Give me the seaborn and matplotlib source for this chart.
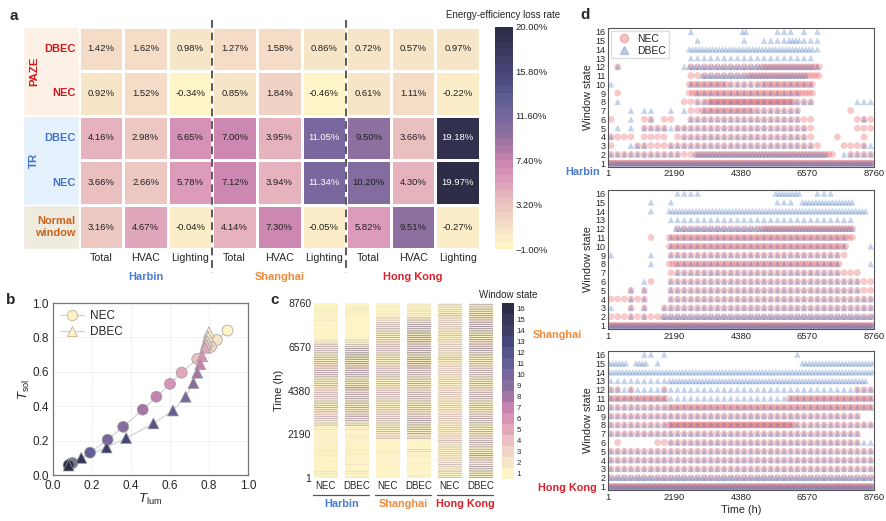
import numpy as np
import matplotlib
matplotlib.use('Agg')
import matplotlib.pyplot as plt
import matplotlib.transforms as mtrans
from matplotlib.colors import LinearSegmentedColormap, ListedColormap
from matplotlib.lines import Line2D
from matplotlib.patches import Rectangle
import seaborn as sns

sns.set_theme(style='white')
plt.rcParams['font.family'] = ['Liberation Sans', 'DejaVu Sans']
plt.rcParams['mathtext.fontset'] = 'custom'
plt.rcParams['mathtext.rm'] = 'Liberation Sans'
plt.rcParams['mathtext.it'] = 'Liberation Sans:italic'

# ---------------- data ----------------
cities = ['Harbin', 'Shanghai', 'Hong Kong']
loads = ['Total', 'HVAC', 'Lighting']
row_names = ['DBEC', 'NEC', 'DBEC', 'NEC', 'Normal\nwindow']

# panel a: energy-efficiency loss rate (%)
loss_paze_dbec = [1.42, 1.62, 0.98, 1.27, 1.58, 0.86, 0.72, 0.57, 0.97]
loss_paze_nec = [0.92, 1.52, -0.34, 0.85, 1.84, -0.46, 0.61, 1.11, -0.22]
loss_tr_dbec = [4.16, 2.98, 6.65, 7.00, 3.95, 11.05, 9.50, 3.66, 19.18]
loss_tr_nec = [3.66, 2.66, 5.78, 7.12, 3.94, 11.34, 10.20, 4.30, 19.97]
loss_normal = [3.16, 4.67, -0.04, 4.14, 7.30, -0.05, 5.82, 9.51, -0.27]
cbar_ticks_a = [-1.0, 3.2, 7.4, 11.6, 15.8, 20.0]

# panel b: transmittance of each window state (state 1 .. 16)
states = list(range(1, 17))
nec_tlum = [0.895, 0.84, 0.81, 0.74, 0.66, 0.60, 0.53, 0.46, 0.36, 0.28, 0.19, 0.10, 0.095, 0.09, 0.085, 0.08]
nec_tsol = [0.84, 0.785, 0.745, 0.675, 0.595, 0.53, 0.455, 0.38, 0.28, 0.205, 0.13, 0.07, 0.067, 0.064, 0.06, 0.057]
dbec_tlum = [0.80, 0.795, 0.79, 0.785, 0.78, 0.765, 0.755, 0.74, 0.72, 0.68, 0.615, 0.515, 0.375, 0.275, 0.145, 0.08]
dbec_tsol = [0.83, 0.805, 0.78, 0.76, 0.74, 0.69, 0.645, 0.595, 0.535, 0.455, 0.375, 0.30, 0.215, 0.16, 0.10, 0.055]

# panel c/d: hourly window states, read as 40 time bins of 219 h
# state -> list of (first bin, last bin, markers per bin)
BIN_H = 219
N_BINS = 40
harbin_nec = {
    1: [(0, 39, 3)],
    2: [(0, 12, 1), (13, 33, 2), (36, 39, 1)],
    3: [(0, 0, 1), (4, 7, 1), (8, 31, 1), (35, 38, 1)],
    4: [(0, 3, 1), (5, 8, 1), (10, 30, 1), (34, 34, 1), (38, 38, 1)],
    5: [(5, 8, 1), (10, 30, 1), (37, 39, 1)],
    6: [(0, 0, 1), (5, 6, 1), (8, 9, 1), (12, 30, 1), (37, 39, 1)],
    7: [(12, 13, 1), (14, 21, 2), (22, 28, 1), (36, 36, 1)],
    8: [(11, 14, 1), (15, 27, 3), (28, 30, 1)],
    9: [(1, 1, 1), (12, 30, 2)],
    10: [(12, 17, 2), (18, 22, 1), (23, 30, 2)],
    11: [(12, 20, 1), (21, 31, 2)],
    12: [(1, 1, 1), (12, 22, 1), (23, 31, 2)],
}
harbin_dbec = {
    1: [(0, 39, 3)],
    2: [(0, 10, 1), (13, 32, 2), (35, 39, 1)],
    3: [(3, 5, 1), (9, 30, 1), (38, 39, 1)],
    4: [(0, 0, 1), (11, 29, 1)],
    5: [(1, 1, 1), (3, 3, 1), (5, 29, 1)],
    6: [(3, 3, 1), (6, 6, 1), (12, 28, 1), (38, 38, 1)],
    7: [(3, 3, 1), (5, 6, 1), (9, 9, 1), (11, 11, 1), (14, 28, 1)],
    8: [(1, 1, 1), (13, 30, 1), (37, 39, 1)],
    9: [(13, 28, 1)],
    10: [(0, 0, 1), (12, 30, 1)],
    11: [(14, 29, 2)],
    12: [(1, 1, 1), (11, 11, 1), (12, 30, 2), (31, 31, 1)],
    13: [(12, 30, 1)],
    14: [(12, 30, 2), (31, 31, 1)],
    15: [(13, 13, 1), (20, 20, 1), (23, 26, 1), (27, 28, 2), (29, 31, 1)],
    16: [(12, 12, 1), (20, 20, 2), (25, 27, 1), (29, 29, 1), (31, 31, 1)],
}
shanghai_nec = {
    1: [(0, 39, 3)],
    2: [(0, 8, 1), (9, 39, 1)],
    3: [(3, 3, 1), (5, 5, 1), (8, 39, 1)],
    4: [(0, 5, 1), (9, 39, 1)],
    5: [(3, 3, 1), (5, 5, 1), (9, 39, 1)],
    6: [(6, 6, 1), (9, 39, 1)],
    7: [(9, 37, 1)],
    8: [(9, 34, 2)],
    9: [(9, 35, 1)],
    10: [(9, 35, 2)],
    11: [(6, 6, 1), (9, 36, 2)],
    12: [(10, 22, 1), (23, 36, 2)],
}
shanghai_dbec = {
    1: [(0, 39, 3)],
    2: [(3, 3, 1), (5, 5, 1), (8, 39, 2)],
    3: [(0, 0, 1), (3, 3, 1), (5, 5, 1), (8, 39, 1)],
    4: [(3, 3, 1), (5, 5, 1), (9, 39, 1)],
    5: [(3, 3, 1), (5, 5, 1), (9, 37, 1)],
    6: [(5, 5, 1), (9, 37, 1)],
    7: [(10, 34, 1)],
    8: [(6, 6, 1), (10, 34, 1), (39, 39, 1)],
    9: [(0, 0, 1), (6, 6, 1), (9, 34, 1)],
    10: [(9, 35, 1), (39, 39, 1)],
    11: [(9, 35, 1)],
    12: [(10, 36, 2)],
    13: [(9, 36, 1)],
    14: [(6, 6, 1), (9, 38, 2)],
    15: [(6, 6, 1), (9, 9, 1), (25, 27, 1), (29, 36, 2)],
    16: [(10, 12, 1), (13, 13, 1), (25, 28, 2), (31, 33, 1)],
}
hongkong_nec = {
    1: [(0, 39, 3)],
    2: [(0, 39, 1)],
    3: [(0, 39, 1)],
    4: [(0, 39, 1)],
    5: [(0, 39, 1)],
    6: [(1, 1, 1), (7, 37, 1)],
    7: [(0, 37, 1)],
    8: [(0, 8, 1), (9, 27, 3), (28, 39, 1)],
    9: [(0, 37, 1)],
    10: [(0, 8, 1), (9, 39, 2)],
    11: [(0, 8, 2), (27, 39, 2)],
    12: [(0, 1, 1), (3, 3, 1), (8, 8, 1), (37, 39, 1)],
}
hongkong_dbec = {
    1: [(0, 39, 3)],
    2: [(0, 39, 2)],
    3: [(0, 39, 1)],
    4: [(0, 39, 1)],
    5: [(0, 39, 1)],
    6: [(9, 39, 1)],
    7: [(0, 37, 1)],
    8: [(0, 39, 1)],
    9: [(0, 37, 1)],
    10: [(0, 39, 1)],
    11: [(0, 39, 1)],
    12: [(0, 39, 1)],
    13: [(0, 8, 1), (9, 38, 2)],
    14: [(0, 39, 2)],
    15: [(0, 2, 2), (4, 5, 2), (7, 7, 1), (29, 39, 2)],
    16: [(5, 6, 1), (8, 8, 1), (28, 28, 1)],
}
window_data = {
    'Harbin': (harbin_nec, harbin_dbec),
    'Shanghai': (shanghai_nec, shanghai_dbec),
    'Hong Kong': (hongkong_nec, hongkong_dbec),
}
hour_ticks = [1, 2190, 4380, 6570, 8760]

# ---------------- colours ----------------
city_colors = ['#4a7bd0', '#f08a3c', '#d9232d']
red_c = '#d0161b'
blue_c = '#4472c4'
orange_c = '#c9641a'
base_cmap = LinearSegmentedColormap.from_list('loss', [
    (0.0, '#fdf5c8'), (0.12, '#f2d8c6'), (0.20, '#ebc0c0'), (0.29, '#dea0bb'),
    (0.36, '#d48db5'), (0.43, '#b77ba8'), (0.52, '#8c6fa0'), (0.600, '#76679c'),
    (0.69, '#5d5c91'), (0.80, '#48477a'), (1.0, '#2d2d47')])
loss_cmap = ListedColormap(base_cmap(np.linspace(0, 1, 30)))
state_colors = base_cmap(np.linspace(0, 1, 16))
state_cmap = ListedColormap(state_colors)
nec_col = '#e8585a'
dbec_col = '#4a78c2'

W, H = 886, 521
fig = plt.figure(figsize=(8.86, 5.21), dpi=100)


def box(x0, y0, x1, y1):
    # pixel box -> figure fraction
    return [x0 / W, 1 - y1 / H, (x1 - x0) / W, (y1 - y0) / H]


# ---------------- panel a ----------------
loss = np.array([loss_paze_dbec, loss_paze_nec, loss_tr_dbec, loss_tr_nec, loss_normal])
annot = np.array([[f'{v:.2f}%' for v in row] for row in loss])
ax_a = fig.add_axes(box(78.6, 26.7, 480, 249.3))
cax_a = fig.add_axes(box(495, 26.7, 512.5, 249.3))
sns.heatmap(loss, ax=ax_a, cbar_ax=cax_a, cmap=loss_cmap, vmin=-1, vmax=20,
            annot=annot, fmt='', annot_kws={'fontsize': 6.8},
            linewidths=1, linecolor='white')
for t, v in zip(ax_a.texts, loss.flatten()):
    t.set_color('white' if v > 10.5 else '#222222')

ax_a.set_xticks(np.arange(9) + 0.5)
ax_a.set_xticklabels(loads * 3, fontsize=7.7)
ax_a.set_yticks(np.arange(5) + 0.5)
ax_a.set_yticklabels(row_names, fontsize=7.9, fontweight='bold', rotation=0)
for lab, c in zip(ax_a.get_yticklabels(), [red_c, red_c, blue_c, blue_c, orange_c]):
    lab.set_color(c)
    lab.set_multialignment('right')
ax_a.tick_params(axis='x', length=0, pad=3)
ax_a.tick_params(axis='y', length=0, pad=2.5)

bl = mtrans.blended_transform_factory(ax_a.transAxes, ax_a.transData)
for y0, hgt, c in [(0, 2, '#fdf1e7'), (2, 2, '#e5f1fc'), (4, 1, '#efebdf')]:
    ax_a.add_patch(Rectangle((-0.1385, y0), 0.1385, hgt, transform=bl, facecolor=c,
                             edgecolor='white', lw=1, clip_on=False, zorder=0))
ax_a.text(-0.111, 1.0, 'PAZE', transform=bl, rotation=90, ha='center', va='center',
          color=red_c, fontweight='bold', fontsize=8.2)
ax_a.text(-0.111, 3.0, 'TR', transform=bl, rotation=90, ha='center', va='center',
          color=blue_c, fontweight='bold', fontsize=8.2)

bx = mtrans.blended_transform_factory(ax_a.transData, ax_a.transAxes)
for xv in [3, 6]:
    ax_a.plot([xv, xv], [1.03, -0.106], transform=bx, clip_on=False,
              color='#5a5a5a', lw=1.4, ls=(0, (4, 2.5)), zorder=5)
for i, city in enumerate(cities):
    ax_a.text(3 * i + 1.5, -0.123, city, transform=bx, ha='center', va='center',
              color=city_colors[i], fontweight='bold', fontsize=7.9)

cax_a.set_yticks(cbar_ticks_a)
cax_a.set_yticklabels([f'{v:.2f}%'.replace('-', '\u2212') for v in cbar_ticks_a])
cax_a.tick_params(length=0, labelsize=6.8, pad=2)
for sp in cax_a.spines.values():
    sp.set_visible(False)
fig.text(503 / W, 1 - 15 / H, 'Energy-efficiency loss rate', ha='center', va='center', fontsize=7)

# ---------------- panel b ----------------
ax_b = fig.add_axes(box(53, 303, 248, 475))
pal = {s: state_colors[s - 1] for s in states}
sns.lineplot(x=nec_tlum, y=nec_tsol, sort=False, color='#cfcfcf', lw=0.8, ax=ax_b, zorder=2)
sns.lineplot(x=dbec_tlum, y=dbec_tsol, sort=False, color='#cfcfcf', lw=0.8, ax=ax_b, zorder=2)
sns.scatterplot(x=nec_tlum, y=nec_tsol, hue=states, palette=pal, marker='o', s=62,
                edgecolor='#9a9a9a', linewidth=0.5, legend=False, ax=ax_b, zorder=3)
sns.scatterplot(x=dbec_tlum, y=dbec_tsol, hue=states, palette=pal, marker='^', s=62,
                edgecolor='#9a9a9a', linewidth=0.5, legend=False, ax=ax_b, zorder=3)
ax_b.set_xlim(0, 1)
ax_b.set_ylim(0, 1)
tk = np.round(np.arange(0, 1.01, 0.2), 1)
ax_b.set_xticks(tk)
ax_b.set_yticks(tk)
ax_b.set_xticklabels([f'{v:.1f}' for v in tk])
ax_b.set_yticklabels([f'{v:.1f}' for v in tk])
ax_b.tick_params(labelsize=8.5, length=0)
ax_b.tick_params(axis='x', pad=3.5)
ax_b.tick_params(axis='y', pad=3)
ax_b.grid(True, color='#e2e2e2', lw=0.6, ls=(0, (1, 1)))
for sp in ax_b.spines.values():
    sp.set_color('#777777')
    sp.set_linewidth(0.9)
ax_b.set_xlabel(r'$T_{\mathrm{lum}}$', fontsize=9.5, labelpad=0)
ax_b.set_ylabel(r'$T_{\mathrm{sol}}$', fontsize=9.5, labelpad=0)
leg_h = [Line2D([0], [0], color='#cfcfcf', lw=0.8, marker='o', ms=7.5, mfc='#fdf1c6',
                mec='#c8b48e', mew=0.6, label='NEC'),
         Line2D([0], [0], color='#cfcfcf', lw=0.8, marker='^', ms=7.5, mfc='#fdf1c6',
                mec='#c8b48e', mew=0.6, label='DBEC')]
ax_b.legend(handles=leg_h, loc='upper left', frameon=False, fontsize=8.5,
            handlelength=2.0, handletextpad=0.5, borderaxespad=0.2, labelspacing=0.35)


# ---------------- panel c ----------------
def count_grid(segs):
    grid = np.zeros((17, N_BINS), dtype=int)
    for s, parts in segs.items():
        for b0, b1, k in parts:
            grid[s, b0:b1 + 1] = k
    return grid


SLOTS = 48


def state_column(segs):
    # non-clear states of a bin are laid out as two bands inside the bin
    grid = count_grid(segs)
    col = np.ones(N_BINS * SLOTS)
    for b in range(N_BINS):
        i = 0
        for s in range(2, 17):
            for _ in range(grid[s, b]):
                col[b * SLOTS + i // 2 + (i % 2) * (SLOTS // 2)] = s
                i += 1
    return col


nrows = N_BINS * SLOTS
ax_c = fig.add_axes(box(314, 303, 492, 478))
cax_c = fig.add_axes(box(502, 303, 514, 479))
k = 0
for ci, city in enumerate(cities):
    for si in range(2):
        col = state_column(window_data[city][si])
        im = ax_c.imshow(col[:, None], cmap=state_cmap, vmin=0.5, vmax=16.5, aspect='auto',
                         origin='lower', extent=(4 * k, 4 * k + 3, 0, nrows),
                         interpolation='antialiased', interpolation_stage='rgba')
        k += 1
ax_c.set_xlim(0, 23)
ax_c.set_ylim(0, nrows)
for sp in ax_c.spines.values():
    sp.set_visible(False)
ax_c.set_yticks([(h - 1) / 8759 * nrows for h in hour_ticks])
ax_c.set_yticklabels([str(h) for h in hour_ticks], fontsize=7.5)
ax_c.set_xticks([4 * i + 1.5 for i in range(6)])
ax_c.set_xticklabels(['NEC', 'DBEC'] * 3, fontsize=7)
ax_c.tick_params(length=0, pad=2)
ax_c.set_ylabel('Time (h)', fontsize=8, labelpad=3)
bc = mtrans.blended_transform_factory(ax_c.transData, ax_c.transAxes)
for i, city in enumerate(cities):
    x0, x1 = 8 * i - 0.1, 8 * i + 7.1
    ax_c.plot([x0, x1], [-0.097, -0.097], transform=bc, clip_on=False, color='#555555', lw=0.9)
    ax_c.text(8 * i + 3.5, -0.15, city, transform=bc, ha='center', va='center',
              color=city_colors[i], fontweight='bold', fontsize=7.8)
cb_c = fig.colorbar(im, cax=cax_c)
cb_c.set_ticks(states)
cb_c.set_ticklabels([str(s) for s in states])
cb_c.outline.set_visible(False)
cax_c.tick_params(length=0, labelsize=5.6, pad=2)
fig.text(508 / W, 1 - 295 / H, 'Window state', ha='center', va='center', fontsize=7)


# ---------------- panel d ----------------
def state_points(segs):
    grid = count_grid(segs)
    xs, ys = [], []
    for s in range(1, 17):
        for b in range(N_BINS):
            n = grid[s, b]
            for j in range(n):
                xs.append((b + (j + 0.5) / n) * BIN_H)
                ys.append(s)
    return xs, ys


d_boxes = [(28.3, 166.7), (190, 329), (351, 490)]
city_lab_pos = [(600, 172), (582, 335), (597, 488)]
for i, city in enumerate(cities):
    y0, y1 = d_boxes[i]
    ax = fig.add_axes(box(607.7, y0, 874, y1))
    nx, ny = state_points(window_data[city][0])
    dx, dy = state_points(window_data[city][1])
    sns.scatterplot(x=nx, y=ny, marker='o', s=24, color=nec_col, alpha=0.32,
                    edgecolor='none', ax=ax)
    sns.scatterplot(x=dx, y=dy, marker='^', s=22, color=dbec_col, alpha=0.32,
                    edgecolor='none', ax=ax)
    ax.set_xlim(1, 8760)
    ax.set_ylim(0.6, 16.4)
    ax.set_yticks(states)
    ax.set_yticklabels([str(s) for s in states])
    ax.set_xticks(hour_ticks)
    ax.set_xticklabels([str(h) for h in hour_ticks])
    ax.tick_params(axis='y', length=0, labelsize=6.5, pad=1.5)
    ax.tick_params(axis='x', length=0, labelsize=6.8, pad=2)
    for sp in ax.spines.values():
        sp.set_color('#555555')
        sp.set_linewidth(0.8)
    ax.set_ylabel('Window state', fontsize=7.8, labelpad=2)
    if i == 0:
        hd = [Line2D([0], [0], ls='none', marker='o', ms=6, color=nec_col, alpha=0.35, label='NEC'),
              Line2D([0], [0], ls='none', marker='^', ms=6, color=dbec_col, alpha=0.35, label='DBEC')]
        ax.legend(handles=hd, loc='upper left', fontsize=7.5, frameon=True, facecolor='white',
                  edgecolor='#dddddd', framealpha=1, borderpad=0.25, handletextpad=0.3,
                  labelspacing=0.15, borderaxespad=0.3, fancybox=False)
    if i == 2:
        ax.set_xlabel('Time (h)', fontsize=7.8, labelpad=2)
    fig.text(city_lab_pos[i][0] / W, 1 - city_lab_pos[i][1] / H, city, ha='right', va='center',
             color=city_colors[i], fontweight='bold', fontsize=7.8)

# panel letters
for lab, (px, py) in zip('abcd', [(13.6, 15.7), (10.7, 300), (275, 300), (585, 15)]):
    fig.text(px / W, 1 - py / H, lab, ha='center', va='center', fontweight='bold', fontsize=11)

fig.savefig('out.png', dpi=100)
